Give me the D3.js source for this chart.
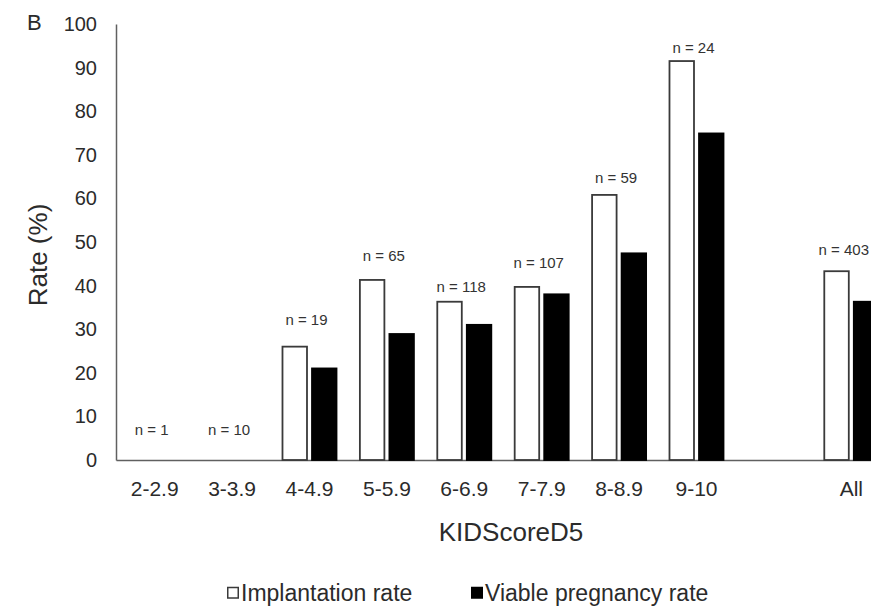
<!DOCTYPE html>
<html>
<head>
<meta charset="utf-8">
<script src="https://cdn.jsdelivr.net/npm/d3@7"></script>
<style>
  body { margin: 0; background: #fff; }
  svg { display: block; font-family: "Liberation Sans", Arial, sans-serif; }
</style>
</head>
<body>
<svg id="chart" width="871" height="607"></svg>
<script>
// KIDScoreD5 groups, one spacer slot before "All"
var categories = ['2-2.9', '3-3.9', '4-4.9', '5-5.9', '6-6.9', '7-7.9', '8-8.9', '9-10', ' ', 'All'];
var implantation = [0, 0, 26, 41.3, 36.3, 39.7, 60.8, 91.5, null, 43.3];
var viable = [0, 0, 21, 28.9, 31, 38, 47.4, 74.9, null, 36.3];
var nLabels = ['n = 1', 'n = 10', 'n = 19', 'n = 65', 'n = 118', 'n = 107', 'n = 59', 'n = 24', '', 'n = 403'];
var nLabelAt = [6.9, 6.9, 32.3, 46.8, 39.7, 45.2, 64.7, 94.5, null, 48.2];
var yTicks = [0, 10, 20, 30, 40, 50, 60, 70, 80, 90, 100];
var seriesNames = ['Implantation rate', 'Viable pregnancy rate'];

var svg = d3.select('#chart');
var textColor = '#2b2b2b';
var axisColor = '#606060';
var W = 871;

var y = d3.scaleLinear().domain([0, 100]).range([460, 24]);
var x0 = d3.scaleBand().domain(categories).range([116, 890])
  .paddingInner(0.302).paddingOuter(0.151);
var x1 = d3.scaleBand().domain(seriesNames).range([0, x0.bandwidth()]).paddingInner(0.17);

// y axis
var yAxis = d3.axisLeft(y).tickValues(yTicks).tickSize(0).tickPadding(19);
var gy = svg.append('g').attr('transform', 'translate(116,0)').call(yAxis);
gy.select('.domain').attr('stroke', axisColor).attr('stroke-width', 1.5);
gy.selectAll('text').attr('font-size', 20).attr('fill', textColor)
  .attr('font-family', '"Liberation Sans", Arial, sans-serif');

// x axis
var xAxis = d3.axisBottom(x0).tickSize(0).tickSizeOuter(0).tickPadding(21)
  .tickFormat(function(d) { return d.trim(); });
var gx = svg.append('g').attr('transform', 'translate(0,460)').call(xAxis);
gx.select('.domain').attr('stroke', axisColor).attr('stroke-width', 1.5);
gx.selectAll('text').attr('font-size', 21).attr('fill', textColor)
  .attr('font-family', '"Liberation Sans", Arial, sans-serif');

// bars
var rows = categories.map(function(c, i) {
  return { cat: c, values: [implantation[i], viable[i]] };
});

var groups = svg.append('g').selectAll('g')
  .data(rows)
  .enter()
  .append('g')
  .attr('transform', function(d) { return 'translate(' + x0(d.cat) + ',0)'; });

groups.selectAll('rect')
  .data(function(d) {
    return d.values.map(function(v, k) { return { key: seriesNames[k], v: v, k: k }; })
      .filter(function(b) { return b.v; });
  })
  .enter()
  .append('rect')
  .attr('x', function(d) { return x1(d.key); })
  .attr('y', function(d) { return y(d.v); })
  .attr('width', x1.bandwidth())
  .attr('height', function(d) { return y(0) - y(d.v); })
  .attr('fill', function(d) { return d.k === 0 ? '#fff' : '#000'; })
  .attr('stroke', function(d) { return d.k === 0 ? '#3a3a3a' : '#000'; })
  .attr('stroke-width', 1.8);

// n labels (the last one is kept inside the picture's right edge)
svg.append('g').selectAll('text')
  .data(categories.map(function(c, i) { return { cat: c, t: nLabels[i], at: nLabelAt[i] }; })
    .filter(function(d) { return d.t; }))
  .enter()
  .append('text')
  .attr('y', function(d) { return y(d.at); })
  .attr('text-anchor', 'middle')
  .attr('dominant-baseline', 'central')
  .attr('font-size', 15)
  .attr('fill', '#333')
  .text(function(d) { return d.t; })
  .attr('x', function(d) {
    var cx = x0(d.cat) + x0.bandwidth() / 2 - 3;
    var half = this.getComputedTextLength() / 2;
    return Math.min(cx, W - 2 - half);
  });

// axis titles
svg.append('text')
  .attr('transform', 'translate(38,255) rotate(-90)')
  .attr('text-anchor', 'middle')
  .attr('dominant-baseline', 'central')
  .attr('font-size', 26)
  .attr('fill', textColor)
  .text('Rate (%)');

svg.append('text')
  .attr('x', 511)
  .attr('y', 532)
  .attr('text-anchor', 'middle')
  .attr('dominant-baseline', 'central')
  .attr('font-size', 26)
  .attr('fill', textColor)
  .text('KIDScoreD5');

// panel letter
svg.append('text')
  .attr('x', 27)
  .attr('y', 22)
  .attr('dominant-baseline', 'central')
  .attr('font-size', 22)
  .attr('fill', textColor)
  .text('B');

// legend
var legendX = [227, 471];
var legend = svg.append('g').selectAll('g')
  .data(seriesNames)
  .enter()
  .append('g')
  .attr('transform', function(d, i) { return 'translate(' + legendX[i] + ',593)'; });

legend.append('rect')
  .attr('x', 0.75)
  .attr('y', -5.5)
  .attr('width', 10.5)
  .attr('height', 10.5)
  .attr('fill', function(d, i) { return i === 0 ? '#fff' : '#000'; })
  .attr('stroke', function(d, i) { return i === 0 ? '#3a3a3a' : '#000'; })
  .attr('stroke-width', 1.5);

legend.append('text')
  .attr('x', 14)
  .attr('y', 0)
  .attr('dominant-baseline', 'central')
  .attr('font-size', 23)
  .attr('fill', textColor)
  .text(function(d) { return d; });
</script>
</body>
</html>
